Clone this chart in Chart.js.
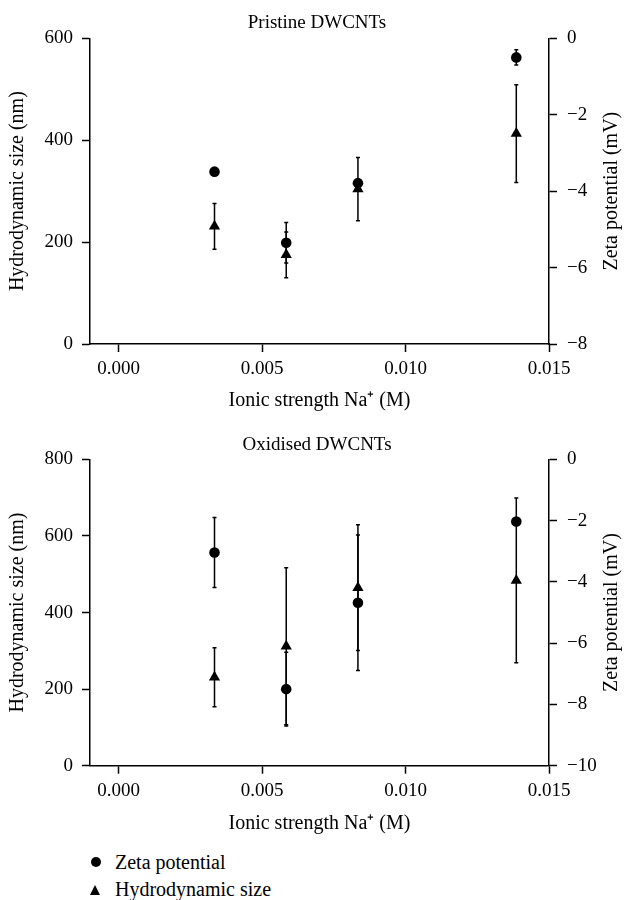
<!DOCTYPE html>
<html>
<head>
<meta charset="utf-8">
<script src="https://cdn.jsdelivr.net/npm/chart.js@4/dist/chart.umd.min.js"></script>
<style>
  body { margin: 0; background: #fff; width: 634px; height: 900px; position: relative; font-family: "Liberation Serif", serif; }
  canvas { display: block; }
  .leg { position: absolute; left: 115px; font-size: 20px; color: #000; line-height: 24px; }
  .dot { position: absolute; left: 91px; top: 857px; width: 10px; height: 10px; border-radius: 50%; background: #000; }
  .tri { position: absolute; left: 90px; top: 885px; width: 0; height: 0; border-left: 5.5px solid transparent; border-right: 5.5px solid transparent; border-bottom: 10px solid #000; }
</style>
</head>
<body>
<canvas id="pristine" width="634" height="420"></canvas>
<canvas id="oxidised" width="634" height="420"></canvas>
<div class="dot"></div>
<div class="leg" style="top:850px">Zeta potential</div>
<div class="tri"></div>
<div class="leg" style="top:877px">Hydrodynamic size</div>
<script>
// ionic strength Na+ (M), same four samples in both panels
const ionicStrength = [0.00334, 0.00584, 0.00834, 0.01386]
const xTicks = [0, 0.005, 0.010, 0.015]

// pristine DWCNTs
const pristineZeta = [-3.49, -5.35, -3.79, -0.50]
const pristineZetaErr = [0, 0.53, 0, 0.2]
const pristineSize = [231, 175, 304, 413]
const pristineSizeErr = [45, 45, 62, 96]

// oxidised DWCNTs
const oxidisedZeta = [-3.04, -7.50, -4.68, -2.03]
const oxidisedZetaErr = [1.14, 1.2, 2.21, 0]
const oxidisedSize = [231, 312, 465, 484]
const oxidisedSizeErr = [77, 205, 164, 215]

const FONT = '"Liberation Serif", "Times New Roman", serif'

const errorBars = {
  id: 'errorBars',
  beforeDatasetsDraw(chart) {
    const ctx = chart.ctx
    const xs = chart.scales.x
    ctx.save()
    ctx.strokeStyle = '#000'
    ctx.lineWidth = 1.5
    chart.data.datasets.forEach(ds => {
      const ys = chart.scales[ds.yAxisID]
      ds.data.forEach((p, i) => {
        const e = ds.err[i]
        if (!e) return
        const px = xs.getPixelForValue(p.x)
        const top = ys.getPixelForValue(p.y + e)
        const bot = ys.getPixelForValue(p.y - e)
        ctx.beginPath()
        ctx.moveTo(px, top); ctx.lineTo(px, bot)
        ctx.moveTo(px - 2, top); ctx.lineTo(px + 2, top)
        ctx.moveTo(px - 2, bot); ctx.lineTo(px + 2, bot)
        ctx.stroke()
      })
    })
    ctx.restore()
  }
}

const rightTitle = {
  id: 'rightTitle',
  afterDraw(chart) {
    const ctx = chart.ctx
    const a = chart.chartArea
    ctx.save()
    ctx.translate(612, (a.top + a.bottom) / 2)
    ctx.rotate(-Math.PI / 2)
    ctx.font = '20px ' + FONT
    ctx.fillStyle = '#000'
    ctx.textAlign = 'center'
    ctx.textBaseline = 'middle'
    ctx.fillText('Zeta potential (mV)', 0, 0)
    ctx.restore()
  }
}

function axisLook(len) {
  return {
    grid: { drawOnChartArea: false, drawTicks: true, tickLength: len, tickColor: '#000', tickWidth: 1.5 },
    border: { display: true, color: '#000', width: 1.5 }
  }
}

function makeChart(id, title, zeta, zetaErr, size, sizeErr, sizeMax, zetaMin, pad) {
  const pts = arr => arr.map((v, i) => ({ x: ionicStrength[i], y: v }))
  return new Chart(document.getElementById(id), {
    type: 'scatter',
    data: {
      datasets: [{
        label: 'Hydrodynamic size',
        data: pts(size),
        err: sizeErr,
        yAxisID: 'y',
        pointStyle: 'triangle',
        pointRadius: 6.5,
        pointHoverRadius: 6.5,
        backgroundColor: '#000',
        borderColor: '#000',
        borderWidth: 0
      }, {
        label: 'Zeta potential',
        data: pts(zeta),
        err: zetaErr,
        yAxisID: 'y2',
        pointStyle: 'circle',
        pointRadius: 5.3,
        pointHoverRadius: 5.3,
        backgroundColor: '#000',
        borderColor: '#000',
        borderWidth: 0
      }]
    },
    options: {
      responsive: false,
      animation: false,
      devicePixelRatio: 1,
      layout: { padding: 0 },
      plugins: {
        legend: { display: false },
        tooltip: { enabled: false },
        title: {
          display: true, text: title, color: '#000',
          font: { family: FONT, size: 19, weight: 'normal' },
          padding: { top: pad.titleTop, bottom: pad.titleBottom }
        }
      },
      scales: {
        x: {
          type: 'linear', min: -0.001, max: 0.015,
          ...axisLook(8),
          afterBuildTicks: s => { s.ticks = xTicks.map(v => ({ value: v })) },
          afterFit: s => { s.height = pad.xHeight },
          ticks: { color: '#000', padding: 6, font: { family: FONT, size: 19 }, callback: v => v.toFixed(3) },
          title: { display: true, text: 'Ionic strength Na\u207A (M)', color: '#000', font: { family: FONT, size: 20 }, padding: { top: 0, bottom: pad.xTitleBottom } }
        },
        y: {
          type: 'linear', position: 'left', min: 0, max: sizeMax,
          ...axisLook(8),
          afterFit: s => { s.width = 90 },
          ticks: { stepSize: 200, color: '#000', padding: 9, font: { family: FONT, size: 19 } },
          title: { display: true, text: 'Hydrodynamic size (nm)', color: '#000', font: { family: FONT, size: 20 }, padding: { top: 6, bottom: 0 } }
        },
        y2: {
          type: 'linear', position: 'right', min: zetaMin, max: 0,
          ...axisLook(8),
          afterFit: s => { s.width = 85 },
          ticks: { stepSize: 2, color: '#000', padding: 10, font: { family: FONT, size: 19 }, callback: v => (v < 0 ? '\u2212' + Math.abs(v) : '' + v) }
        }
      }
    },
    plugins: [errorBars, rightTitle]
  })
}

makeChart('pristine', 'Pristine DWCNTs', pristineZeta, pristineZetaErr, pristineSize, pristineSizeErr, 600, -8,
  { titleTop: 12, titleBottom: 3.5, xHeight: 76, xTitleBottom: 7 })
makeChart('oxidised', 'Oxidised DWCNTs', oxidisedZeta, oxidisedZetaErr, oxidisedSize, oxidisedSizeErr, 800, -10,
  { titleTop: 13.6, titleBottom: 3, xHeight: 74.3, xTitleBottom: 4.7 })
</script>
</body>
</html>
